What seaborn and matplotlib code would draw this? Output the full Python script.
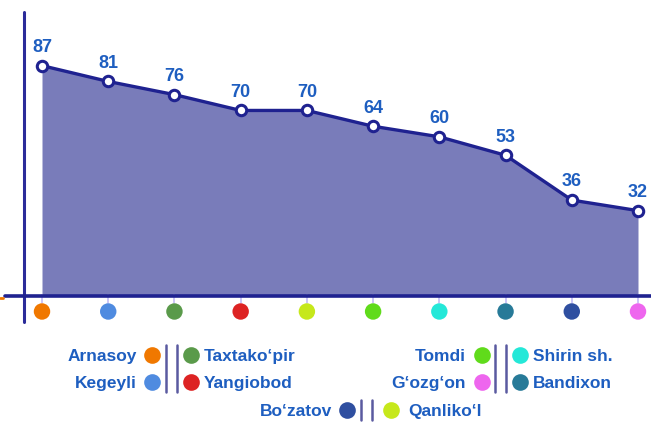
import numpy as np
import pandas as pd
import matplotlib
matplotlib.use("Agg")
import matplotlib.pyplot as plt
from matplotlib.lines import Line2D
import seaborn as sns

# District values along the x axis
districts = ["Arnasoy", "Kegeyli", "Taxtako‘pir", "Yangiobod", "Qanliko‘l",
             "Tomdi", "Shirin sh.", "Bandixon", "Bo‘zatov", "G‘ozg‘on"]
values = [87, 81, 76, 70, 70, 64, 60, 53, 36, 32]
dot_colors = ["#F07800", "#4F8BE0", "#5A9A4A", "#DD2323", "#C6E81B",
              "#60DB1B", "#24E8D8", "#277A98", "#2F4FA0", "#EE66EE"]

# Legend layout: (name, color) per block
legend_left_block = [("Arnasoy", "#F07800"), ("Kegeyli", "#4F8BE0")]
legend_left_block_r = [("Taxtako‘pir", "#5A9A4A"), ("Yangiobod", "#DD2323")]
legend_right_block = [("Tomdi", "#60DB1B"), ("G‘ozg‘on", "#EE66EE")]
legend_right_block_r = [("Shirin sh.", "#24E8D8"), ("Bandixon", "#277A98")]
legend_bottom = [("Bo‘zatov", "#2F4FA0")]
legend_bottom_r = [("Qanliko‘l", "#C6E81B")]

sns.set_theme(style="white")
plt.rcParams["font.family"] = ["Liberation Sans", "DejaVu Sans"]

W, H = 651, 424
fig = plt.figure(figsize=(W / 100, H / 100), dpi=100)

def fx(px):
    return px / W

def fy(py):
    return 1 - py / H

ax_left, ax_right, ax_top, ax_bottom = 24, 651, 12, 295
ax = fig.add_axes([fx(ax_left), fy(ax_bottom), fx(ax_right - ax_left), (ax_bottom - ax_top) / H])
ax.set_facecolor("none")

df = pd.DataFrame({"idx": np.arange(len(values)), "value": values, "district": districts})

x0_px, step_px = 42, (638 - 42) / 9
ax.set_xlim((ax_left - x0_px) / step_px, 9 + (ax_right - 638) / step_px)
ppu = (210.5 - 65.5) / (87 - 32)
ax.set_ylim(0, (ax_bottom - ax_top) / ppu)

line_col = "#1F2290"
text_col = "#1E5EC0"

ax.fill_between(df["idx"], 0, df["value"], color="#797CBA", lw=0, zorder=1)
sns.lineplot(data=df, x="idx", y="value", ax=ax, color=line_col, lw=2.4,
             marker="o", markersize=7.5, markerfacecolor="white",
             markeredgecolor=line_col, markeredgewidth=2.2, zorder=3, clip_on=False)

for i, v in zip(df["idx"], df["value"]):
    ax.annotate(f"{v}", (i, v), xytext=(0, 9.8), textcoords="offset points",
                ha="center", va="baseline", fontsize=13, fontweight="bold",
                color=text_col, zorder=4)

# Tick stubs and colored category dots under the axis
for i in df["idx"]:
    ax.plot([i, i], [0, -8 / ppu], color="#C4BCF6", lw=1.2, clip_on=False, zorder=2)
sns.scatterplot(x=df["idx"], y=np.full(len(df), -16.5 / ppu), hue=df["district"],
                palette=dict(zip(districts, dot_colors)), s=140, linewidth=0,
                legend=False, ax=ax, clip_on=False, zorder=3)

ax.set_xticks([])
ax.set_yticks([])
ax.set_xlabel("")
ax.set_ylabel("")
for s in ax.spines.values():
    s.set_visible(False)

# Axis lines extending past the plot corner
fig.add_artist(Line2D([fx(24), fx(24)], [fy(12), fy(322)], color="#2B2B99", lw=2.2))
fig.add_artist(Line2D([fx(5), fx(651)], [fy(295.5), fy(295.5)], color=line_col, lw=2.6))
fig.add_artist(Line2D([fx(0), fx(2.5)], [fy(298), fy(298)], color="#F07800", lw=2))

# Legend
def dot(px, py, color):
    fig.add_artist(Line2D([fx(px)], [fy(py)], marker="o", markersize=12,
                          color=color, markeredgewidth=0, linestyle="none"))

def label(px, py, txt, ha):
    fig.text(fx(px), fy(py), txt, ha=ha, va="center_baseline", fontsize=12.5,
             fontweight="bold", color=text_col)

def bars(px1, px2, py1, py2):
    for px in (px1, px2):
        fig.add_artist(Line2D([fx(px), fx(px)], [fy(py1), fy(py2)],
                              color="#5A5AA0", lw=1.8))

def block(left_items, right_items, text_r, dot_l, bar1, bar2, dot_r, text_l, rows_y):
    for (name, col), py in zip(left_items, rows_y):
        label(text_r, py, name, "right")
        dot(dot_l, py, col)
    for (name, col), py in zip(right_items, rows_y):
        dot(dot_r, py, col)
        label(text_l, py, name, "left")
    bars(bar1, bar2, rows_y[0] - 10, rows_y[-1] + 10)

block(legend_left_block, legend_left_block_r, 137, 152, 166, 177, 191, 204, [355, 382])
block(legend_right_block, legend_right_block_r, 466, 482, 495, 506, 520, 533, [355, 382])
block(legend_bottom, legend_bottom_r, 332, 347, 361, 372, 391, 408, [410])

fig.savefig("out.png", dpi=100)
